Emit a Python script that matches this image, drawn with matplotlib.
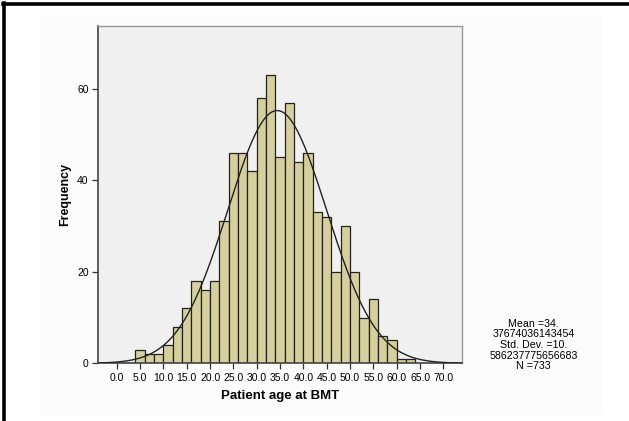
import numpy as np
import matplotlib.pyplot as plt
from matplotlib.patches import Rectangle

# age bins (width 2 years) and counts per bin
bin_starts = [4, 6, 8, 10, 12, 14, 16, 18, 20, 22, 24, 26, 28, 30, 32,
              34, 36, 38, 40, 42, 44, 46, 48, 50, 52, 54, 56, 58, 60, 62]
counts = [3, 2, 2, 4, 8, 12, 18, 16, 18, 31, 46, 46, 42, 58, 63,
          45, 57, 44, 46, 33, 32, 20, 30, 20, 10, 14, 6, 5, 1, 1]
bin_width = 2

mean_age = 34.37674036143454
std_age = 10.586237775656683
n_total = 733

x_ticks = np.arange(0, 75, 5)
x_ticklabels = ["%.1f" % t for t in x_ticks]
y_ticks = [0, 20, 40, 60]

plt.rcParams['font.family'] = ['Liberation Sans', 'DejaVu Sans']

fig = plt.figure(figsize=(6.29, 4.21), dpi=100)
fig.patch.set_facecolor('white')

# faint backdrop panel and outer frame
fig.patches.append(Rectangle((0.064, 0.014), 0.893, 0.95, transform=fig.transFigure,
                             facecolor='#fcfcfc', edgecolor='none', zorder=-5))
fig.add_artist(plt.Line2D([0.0065, 0.0065], [0, 0.992], transform=fig.transFigure,
                          color='black', lw=2.6))
fig.add_artist(plt.Line2D([0.0045, 1.0], [0.9905, 0.9905], transform=fig.transFigure,
                          color='black', lw=2.6))

ax = fig.add_axes([0.1563, 0.137, 0.5787, 0.801])
ax.set_zorder(2)
ax.set_facecolor('#f0f0f0')

ax.bar(bin_starts, counts, width=bin_width, align='edge',
       color='#d4cf9c', edgecolor='#222222', linewidth=0.9, zorder=2)

# normal curve scaled to counts
xs = np.linspace(-4, 74, 400)
pdf = n_total * bin_width / (std_age * np.sqrt(2 * np.pi)) * np.exp(-0.5 * ((xs - mean_age) / std_age) ** 2)
ax.plot(xs, pdf, color='#222222', lw=1.0, zorder=3)

ax.set_xlim(-3.95, 74.05)
ax.set_ylim(0, 73.7)
ax.set_xticks(x_ticks)
ax.set_xticklabels(x_ticklabels, fontsize=7.5)
ax.set_yticks(y_ticks)
ax.set_yticklabels([str(v) for v in y_ticks], fontsize=7.5)
ax.tick_params(axis='both', direction='out', length=4, width=0.9, color='#333333', pad=3)

for side in ['top', 'right']:
    ax.spines[side].set_color('#999999')
    ax.spines[side].set_linewidth(1.0)
for side in ['left', 'bottom']:
    ax.spines[side].set_color('#444444')
    ax.spines[side].set_linewidth(1.2)

ax.set_xlabel('Patient age at BMT', fontsize=9.5, fontweight='bold', labelpad=5)
ax.set_ylabel('Frequency', fontsize=9, fontweight='bold')
ax.yaxis.set_label_coords(-0.075, 0.5)

stats = "Mean =34.\n37674036143454\nStd. Dev. =10.\n586237775656683\nN =733"
fig.text(0.848, 0.118, stats, ha='center', va='bottom', fontsize=7.7, linespacing=1.08)

fig.savefig('out.png', dpi=100)
